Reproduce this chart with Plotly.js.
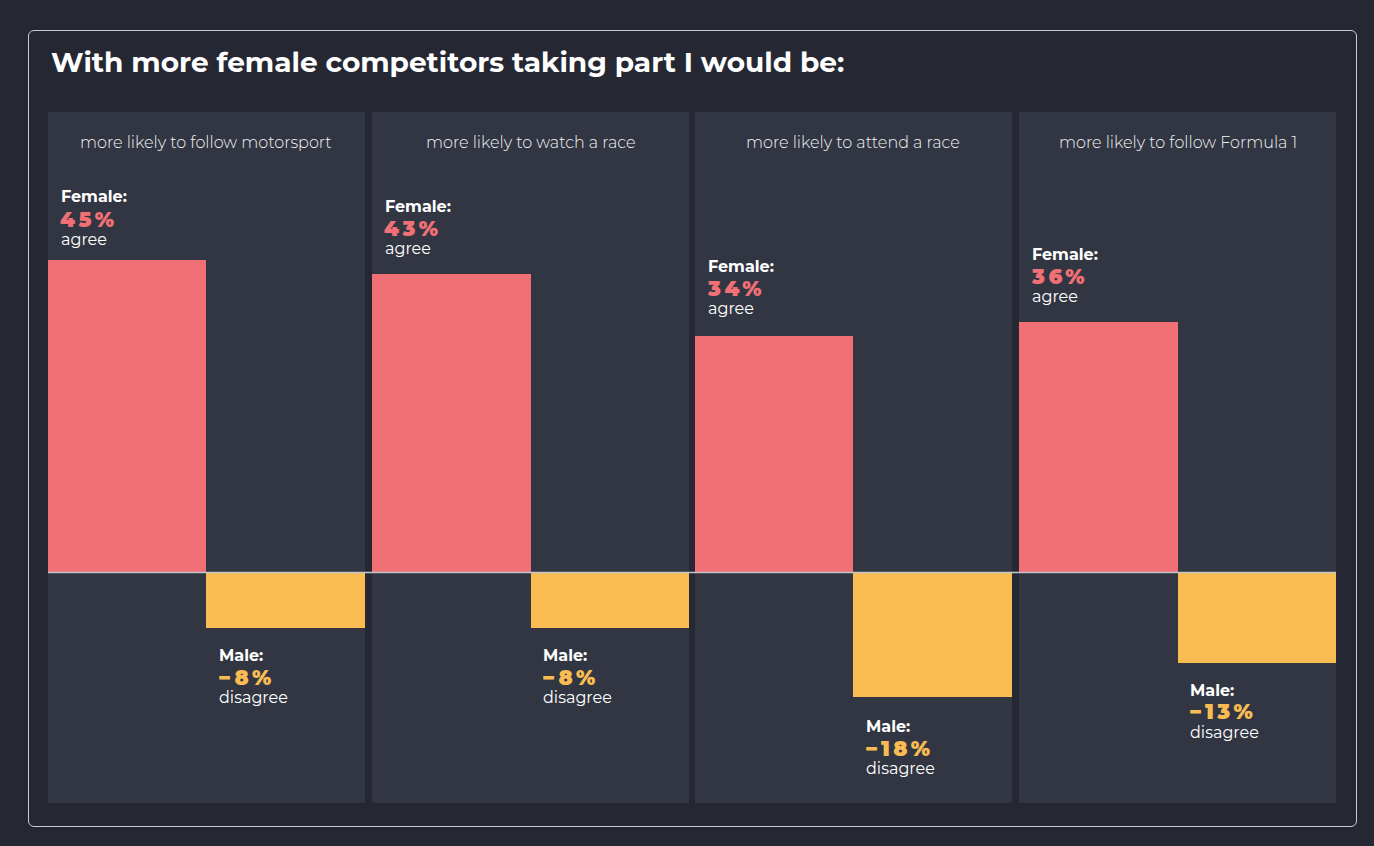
<!DOCTYPE html>
<html>
<head>
<meta charset="utf-8">
<script src="https://cdn.plot.ly/plotly-3.0.1.min.js"></script>
<style>
  html, body { margin:0; padding:0; background:#252833; }
  #wrap { position:relative; width:1374px; height:846px; }
  #chart { width:1374px; height:846px; }
  #frame { position:absolute; left:28px; top:30px; width:1329px; height:797px;
           border:1px solid #c9cbd0; border-radius:6px; pointer-events:none; box-sizing:border-box; }
</style>
</head>
<body>
<div id="wrap">
  <div id="chart"></div>
  <div id="frame"></div>
</div>
<script>
const chartTitle = "With more female competitors taking part I would be:";
const questions = ["more likely to follow motorsport", "more likely to watch a race", "more likely to attend a race", "more likely to follow Formula 1"];
const groups = ["Female", "Male"];
const femaleAgree = [45, 43, 34, 36];
const maleDisagree = [-8, -8, -18, -13];

const COL_F = "#f07075", COL_M = "#f9bc52";
const domains = [[0, 0.2461], [0.2516, 0.4977], [0.5023, 0.7484], [0.7539, 1]];
// per-panel label offsets (px) above / below bar ends: [label, percent, word]
const fOff = [[63, 40, 20], [67, 45, 25], [70, 48, 28], [68, 46, 26]];
const mOff = [[28, 50, 70], [28, 50, 70], [29, 51, 71], [28, 49, 70]];
const FONT = "Montserrat, 'Open Sans', Lato, sans-serif";

const data = [];
const layout = {
  width: 1374, height: 846,
  paper_bgcolor: "#252833",
  plot_bgcolor: "#313642",
  margin: {l: 48, r: 38, t: 112, b: 43, pad: 0},
  showlegend: false,
  bargap: 0,
  barmode: "overlay",
  yaxis: {range: [-33.2, 66.3], visible: false, fixedrange: true, zeroline: false, showgrid: false},
  annotations: [],
  shapes: [{type: "line", xref: "paper", yref: "y", x0: 0, x1: 1, y0: 0, y1: 0,
            line: {color: "#c3c5ca", width: 1.5}, layer: "above"}]
};

layout.annotations.push({
  text: "<b>" + chartTitle + "</b>", xref: "paper", yref: "paper", x: 0, y: 1,
  xanchor: "left", yanchor: "middle", xshift: 1, yshift: 50, showarrow: false,
  font: {family: FONT, size: 28, color: "#ffffff"}
});

const pct = v => "<span style='letter-spacing:3.5px'>" + (v < 0 ? "\u2212" : "") + Math.abs(v) + "%</span>";

questions.forEach((q, i) => {
  const xa = i === 0 ? "x" : "x" + (i + 1);
  const xkey = i === 0 ? "xaxis" : "xaxis" + (i + 1);
  layout[xkey] = {domain: domains[i], range: [-0.5, 1.5], visible: false, fixedrange: true,
                  anchor: "y", type: "category", categoryarray: groups};
  data.push({type: "bar", x: [groups[0]], y: [femaleAgree[i]], xaxis: xa, yaxis: "y",
             marker: {color: COL_F, line: {width: 0}}, width: 1, hoverinfo: "skip"});
  data.push({type: "bar", x: [groups[1]], y: [maleDisagree[i]], xaxis: xa, yaxis: "y",
             marker: {color: COL_M, line: {width: 0}}, width: 1, hoverinfo: "skip"});

  layout.annotations.push({
    text: q, xref: xa + " domain", yref: "paper", x: 0.5, y: 1, xanchor: "center", yanchor: "middle",
    yshift: -30, showarrow: false, font: {family: FONT, size: 16, color: "#f2f2f4", weight: 300}
  });
  const fx = {xref: xa, yref: "y", x: groups[0], y: femaleAgree[i], xanchor: "left", xshift: -67,
              showarrow: false, yanchor: "middle", borderpad: 0};
  layout.annotations.push(Object.assign({}, fx, {yshift: fOff[i][0], text: "<b>Female:</b>",
    font: {family: FONT, size: 16, color: "#ffffff"}}));
  layout.annotations.push(Object.assign({}, fx, {yshift: fOff[i][1], xshift: -68,
    text: pct(femaleAgree[i]), font: {family: FONT, size: 21, color: COL_F, weight: 900}}));
  layout.annotations.push(Object.assign({}, fx, {yshift: fOff[i][2], text: "agree",
    font: {family: FONT, size: 16, color: "#ffffff"}}));
  const mx = {xref: xa, yref: "y", x: groups[1], y: maleDisagree[i], xanchor: "left", xshift: -68,
              showarrow: false, yanchor: "middle", borderpad: 0};
  layout.annotations.push(Object.assign({}, mx, {yshift: -mOff[i][0], text: "<b>Male:</b>",
    font: {family: FONT, size: 16, color: "#ffffff"}}));
  layout.annotations.push(Object.assign({}, mx, {yshift: -mOff[i][1], xshift: -69,
    text: pct(maleDisagree[i]), font: {family: FONT, size: 21, color: COL_M, weight: 900}}));
  layout.annotations.push(Object.assign({}, mx, {yshift: -mOff[i][2], text: "disagree",
    font: {family: FONT, size: 16, color: "#ffffff"}}));
});

Plotly.newPlot("chart", data, layout, {staticPlot: true, displayModeBar: false});
</script>
</body>
</html>
